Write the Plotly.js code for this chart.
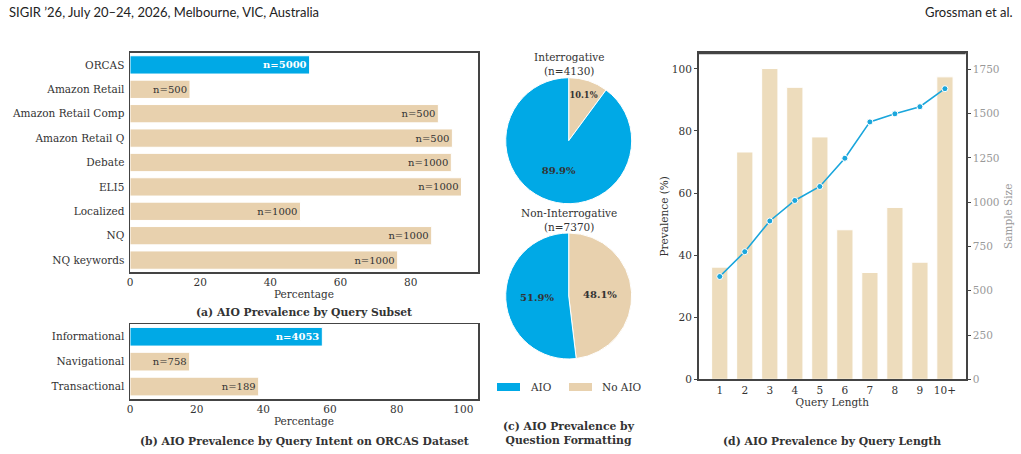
<!DOCTYPE html>
<html><head><meta charset="utf-8">
<script src="https://cdn.plot.ly/plotly-3.0.1.min.js"></script>
<style>body{margin:0;background:#fff}#c{width:1021px;height:454px}</style>
</head><body><div id="c"></div>
<script>
// (a) subsets
const subsetNames = ["ORCAS","Amazon Retail","Amazon Retail Comp","Amazon Retail Q","Debate","ELI5","Localized","NQ","NQ keywords"];
const subsetPct = [51.2,17.1,87.9,91.9,91.6,94.5,48.6,86.0,76.3];
const subsetN = [5000,500,500,500,1000,1000,1000,1000,1000];
// (b) intent
const intentNames = ["Informational","Navigational","Transactional"];
const intentPct = [57.7,17.9,38.6];
const intentN = [4053,758,189];
// (c) question formatting
const pieLabels = ["AIO","No AIO"];
const interrogVals = [89.9,10.1];
const interrogN = 4130;
const nonInterrogVals = [51.9,48.1];
const nonInterrogN = 7370;
// (d) query length
const qLen = ["1","2","3","4","5","6","7","8","9","10+"];
const qPrev = [33.1,41.1,51.0,57.6,62.1,71.2,82.9,85.5,87.8,93.6];
const qSample = [633,1283,1754,1648,1368,844,603,970,661,1707];

const BLUE = "#00a9e6", BEIGE = "#e8d1ae", BEIGE2 = "#eddcbc", DARK = "#333", FRAME = "#444";
const SERIF = "DejaVu Serif, serif";
const W = 1021, H = 454;
const px = v => v / W, py = v => 1 - v / H;

function barTrace(names, pct, ns, xa, ya, highlightIdx) {
  return {
    type: "bar", orientation: "h", y: names, x: pct, xaxis: xa, yaxis: ya,
    marker: {color: names.map((_, i) => i === highlightIdx ? BLUE : BEIGE), line: {color: "#fff", width: 1}},
    width: 0.75,
    text: ns.map((n, i) => i === highlightIdx ? "<b>n=" + n + "</b>" : "n=" + n),
    textposition: "inside", insidetextanchor: "end", constraintext: "none",
    textfont: {family: SERIF, size: 10, color: names.map((_, i) => i === highlightIdx ? "#fff" : DARK)},
    hoverinfo: "skip", showlegend: false, cliponaxis: false
  };
}

function pieTrace(vals, y0, y1) {
  // drawn starting at 12 o'clock, clockwise: "No AIO" first so it sits on the right
  return {type: "pie", labels: pieLabels.slice().reverse(), values: vals.slice().reverse(), sort: false,
   direction: "clockwise", rotation: 0,
   marker: {colors: [BEIGE, BLUE], line: {color: "#fff", width: 1}},
   domain: {x: [px(505.7), px(631.7)], y: [py(y1), py(y0)]},
   texttemplate: "<b>%{percent:.1%}</b>", textposition: "inside", insidetextorientation: "horizontal",
   textfont: {family: SERIF, size: 10, color: DARK}, showlegend: false, hoverinfo: "skip"};
}

const traces = [
  barTrace(subsetNames, subsetPct, subsetN, "x", "y", 0),
  barTrace(intentNames, intentPct, intentN, "x2", "y2", 0),
  pieTrace(interrogVals, 77.7, 203.7),
  pieTrace(nonInterrogVals, 233, 359),
  {type: "bar", x: qLen, y: qSample, xaxis: "x3", yaxis: "y3", width: 0.65,
   marker: {color: BEIGE2, line: {color: "#fff", width: 1}}, showlegend: false, hoverinfo: "skip"},
  {type: "scatter", mode: "lines+markers", x: qLen, y: qPrev, xaxis: "x3", yaxis: "y4",
   line: {color: "#1aa6dc", width: 1.6}, marker: {color: "#1aa6dc", size: 6, line: {color: "#fff", width: 1}},
   showlegend: false, hoverinfo: "skip", cliponaxis: false}
];

const tickF = {family: SERIF, size: 10.5, color: DARK};
const titleF = {family: SERIF, size: 10.5, color: DARK};
const capF = {family: SERIF, size: 10.8, color: DARK};
const frame = {showline: true, linecolor: FRAME, linewidth: 1.5, mirror: true, showgrid: false, zeroline: false};

const layout = {
  width: W, height: H, margin: {l: 0, r: 0, t: 0, b: 0},
  paper_bgcolor: "#fff", plot_bgcolor: "#fff", bargap: 0,
  font: {family: SERIF, color: DARK},
  xaxis: Object.assign({}, frame, {domain: [px(130), px(478)], anchor: "y", range: [0, 99.2], tickvals: [0,20,40,60,80],
    tickfont: tickF, ticks: "", title: {text: "Percentage", font: titleF, standoff: 3}}),
  yaxis: Object.assign({}, frame, {domain: [py(272.3), py(52.7)], anchor: "x", type: "category", categoryarray: subsetNames,
    range: [8.5, -0.5], tickfont: tickF, ticks: "", ticklabelstandoff: 2}),
  xaxis2: Object.assign({}, frame, {domain: [px(130), px(478)], anchor: "y2", range: [0, 104.4], tickvals: [0,20,40,60,80,100],
    tickfont: tickF, ticks: "", title: {text: "Percentage", font: titleF, standoff: 3}}),
  yaxis2: Object.assign({}, frame, {domain: [py(399), py(324.3)], anchor: "x2", type: "category", categoryarray: intentNames,
    range: [2.5, -0.5], tickfont: tickF, ticks: "", ticklabelstandoff: 2}),
  xaxis3: Object.assign({}, frame, {domain: [px(699), px(965.7)], anchor: "y3", type: "category", range: [-0.83, 9.83],
    tickfont: tickF, ticks: "", linewidth: 2, title: {text: "Query Length", font: titleF, standoff: 2}}),
  yaxis3: {domain: [py(379.3), py(53.3)], anchor: "x3", side: "right", range: [0, 1840],
    tickvals: [0,250,500,750,1000,1250,1500,1750],
    showgrid: false, zeroline: false, showline: true, linecolor: FRAME, linewidth: 2,
    ticks: "outside", ticklen: 3, tickcolor: FRAME, tickfont: {family: SERIF, size: 10.5, color: "#999"},
    title: {text: "Sample Size", font: {family: SERIF, size: 10.5, color: "#999"}, standoff: 6}},
  yaxis4: {overlaying: "y3", side: "left", anchor: "x3", range: [0, 105], tickvals: [0,20,40,60,80,100],
    showgrid: false, zeroline: false, showline: true, linecolor: FRAME, linewidth: 2,
    tickfont: tickF, ticks: "outside", ticklen: 3, tickcolor: FRAME,
    title: {text: "Prevalence (%)", font: titleF, standoff: 1}},
  shapes: [
    {type: "line", xref: "paper", yref: "paper", x0: px(699), x1: px(965.7), y0: py(53.3), y1: py(53.3), line: {color: FRAME, width: 2}},
    {type: "rect", xref: "paper", yref: "paper", x0: px(497), x1: px(520), y0: py(391), y1: py(383), fillcolor: BLUE, line: {width: 0}},
    {type: "rect", xref: "paper", yref: "paper", x0: px(569), x1: px(592), y0: py(391), y1: py(383), fillcolor: BEIGE, line: {width: 0}}
  ],
  annotations: [
    {text: "SIGIR ’26, July 20–24, 2026, Melbourne, VIC, Australia", xref: "paper", yref: "paper", x: px(7), y: py(12),
     xanchor: "left", yanchor: "middle", showarrow: false, font: {family: "Lato, sans-serif", size: 13, color: "#222"}},
    {text: "Grossman et al.", xref: "paper", yref: "paper", x: px(1015), y: py(12),
     xanchor: "right", yanchor: "middle", showarrow: false, font: {family: "Lato, sans-serif", size: 13, color: "#222"}},
    {text: "<b>(a) AIO Prevalence by Query Subset</b>", xref: "paper", yref: "paper", x: px(304), y: py(312.7),
     xanchor: "center", yanchor: "middle", showarrow: false, font: capF},
    {text: "<b>(b) AIO Prevalence by Query Intent on ORCAS Dataset</b>", xref: "paper", yref: "paper", x: px(304), y: py(441),
     xanchor: "center", yanchor: "middle", showarrow: false, font: capF},
    {text: "<b>(c) AIO Prevalence by<br>Question Formatting</b>", xref: "paper", yref: "paper", x: px(569), y: py(433.5),
     xanchor: "center", yanchor: "middle", showarrow: false, font: capF},
    {text: "<b>(d) AIO Prevalence by Query Length</b>", xref: "paper", yref: "paper", x: px(832), y: py(441),
     xanchor: "center", yanchor: "middle", showarrow: false, font: capF},
    {text: "Interrogative<br>(n=" + interrogN + ")", xref: "paper", yref: "paper", x: px(568.7), y: py(63.5),
     xanchor: "center", yanchor: "middle", showarrow: false, font: {family: SERIF, size: 10.5, color: DARK}},
    {text: "Non-Interrogative<br>(n=" + nonInterrogN + ")", xref: "paper", yref: "paper", x: px(568.7), y: py(219.5),
     xanchor: "center", yanchor: "middle", showarrow: false, font: {family: SERIF, size: 10.5, color: DARK}},
    {text: pieLabels[0], xref: "paper", yref: "paper", x: px(528), y: py(387), xanchor: "left", yanchor: "middle",
     showarrow: false, font: {family: SERIF, size: 10.5, color: DARK}},
    {text: pieLabels[1], xref: "paper", yref: "paper", x: px(600), y: py(387), xanchor: "left", yanchor: "middle",
     showarrow: false, font: {family: SERIF, size: 10.5, color: DARK}}
  ]
};

Plotly.newPlot("c", traces, layout, {staticPlot: true, displayModeBar: false});
</script></body></html>
